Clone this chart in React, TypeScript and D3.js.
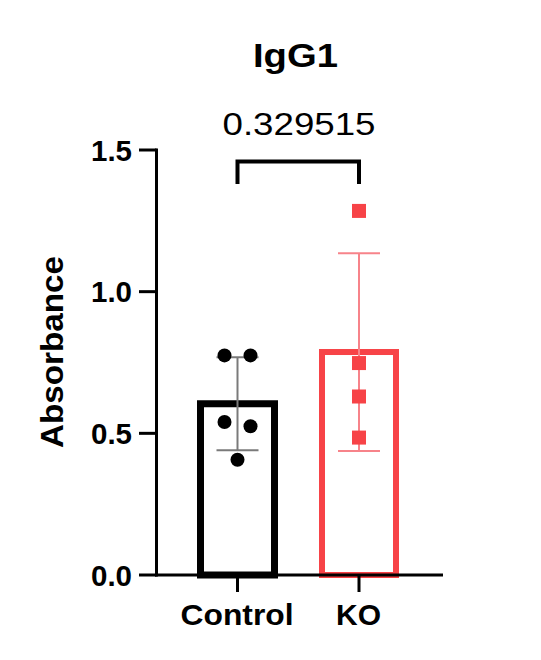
import React from "react";
import * as d3 from "d3";

const title = "IgG1";
const yLabel = "Absorbance";
const categories = ["Control", "KO"];
const controlValues = [0.775, 0.775, 0.54, 0.525, 0.407];
const koValues = [1.285, 0.748, 0.63, 0.485];
const yTicks = [0.0, 0.5, 1.0, 1.5];
const pValue = "0.329515";

const BLACK = "#000000";
const RED = "#F74347";
const RED_LIGHT = "#F7838A";

function spread(values: number[], gap: number, step: number) {
  // place near-equal values side by side, as the scatter does
  const order = values.map((v, i) => ({ v, i })).sort((a, b) => b.v - a.v);
  const offs = new Array(values.length).fill(0);
  let k = 0;
  while (k < order.length) {
    let j = k + 1;
    while (j < order.length && order[j - 1].v - order[j].v < gap) j++;
    const n = j - k;
    for (let m = 0; m < n; m++) offs[order[k + m].i] = (m - (n - 1) / 2) * step;
    k = j;
  }
  return offs;
}

export default function App() {
  const W = 541, H = 660;
  const y = d3.scaleLinear().domain([0, 1.5]).range([575, 150]);
  const x = d3.scalePoint<string>().domain(categories).range([237.5, 359]);
  const axisX = 156.5;
  const axisRight = 443;
  const font = "'Liberation Sans', Arial, Helvetica, sans-serif";

  const groups = [
    { name: "Control", values: controlValues, color: BLACK, ebColor: "#7a7a7a", sw: 7, shape: "circle" },
    { name: "KO", values: koValues, color: RED, ebColor: RED_LIGHT, sw: 6, shape: "square" },
  ];
  const barW = 74;
  const capW = 42;

  return (
    <svg width={W} height={H} style={{ position: "absolute", left: 0, top: 0 }}>
      <rect x={0} y={0} width={W} height={H} fill="#fff" />
      {/* title */}
      <text x={295.5} y={67} textAnchor="middle" fontFamily={font} fontWeight="bold" fontSize={33}
        textLength={85} lengthAdjust="spacingAndGlyphs">{title}</text>

      {/* bars */}
      {groups.map((g) => {
        const m = d3.mean(g.values) as number;
        const sd = d3.deviation(g.values) as number;
        const cx = x(g.name) as number;
        const offs = spread(g.values, 0.06, 26);
        return (
          <g key={g.name}>
            <rect x={cx - barW / 2} y={y(m)} width={barW} height={y(0) - y(m)} fill="none"
              stroke={g.color} strokeWidth={g.sw} />
            <line x1={cx} x2={cx} y1={y(m + sd)} y2={y(m - sd)} stroke={g.ebColor} strokeWidth={2} />
            <line x1={cx - capW / 2} x2={cx + capW / 2} y1={y(m + sd)} y2={y(m + sd)} stroke={g.ebColor} strokeWidth={2} />
            <line x1={cx - capW / 2} x2={cx + capW / 2} y1={y(m - sd)} y2={y(m - sd)} stroke={g.ebColor} strokeWidth={2} />
            {g.values.map((v, i) =>
              g.shape === "circle" ? (
                <circle key={i} cx={cx + offs[i]} cy={y(v)} r={7} fill={g.color} />
              ) : (
                <rect key={i} x={cx + offs[i] - 7} y={y(v) - 7} width={14} height={14} fill={g.color} />
              )
            )}
          </g>
        );
      })}

      {/* y axis */}
      <line x1={axisX} x2={axisX} y1={y(1.5) - 1.5} y2={y(0) + 1.5} stroke={BLACK} strokeWidth={3} />
      {yTicks.map((t) => (
        <g key={t}>
          <line x1={139} x2={axisX} y1={y(t)} y2={y(t)} stroke={BLACK} strokeWidth={3} />
          <text x={132} y={y(t)} dy="0.36em" textAnchor="end" fontFamily={font} fontWeight="bold" fontSize={29.5}>
            {d3.format(".1f")(t)}
          </text>
        </g>
      ))}
      <text transform={`translate(63,352) rotate(-90)`} textAnchor="middle" fontFamily={font} fontWeight="bold"
        fontSize={32} textLength={192} lengthAdjust="spacingAndGlyphs">{yLabel}</text>

      {/* x axis */}
      <line x1={axisX - 1.5} x2={axisRight} y1={y(0)} y2={y(0)} stroke={BLACK} strokeWidth={3} />
      {categories.map((c) => (
        <g key={c}>
          <line x1={x(c)} x2={x(c)} y1={y(0)} y2={592} stroke={BLACK} strokeWidth={3} />
          <text x={(x(c) as number) - 0.5} y={625} textAnchor="middle" fontFamily={font} fontWeight="bold" fontSize={30}
            textLength={c === "Control" ? 113 : 45} lengthAdjust="spacingAndGlyphs">{c}</text>
        </g>
      ))}

      {/* significance bracket */}
      <path d={`M${x("Control")},184 V161.5 H${x("KO")} V184`} fill="none" stroke={BLACK} strokeWidth={4} />
      <text x={299} y={134.5} textAnchor="middle" fontFamily={font} fontSize={31}
        textLength={153} lengthAdjust="spacingAndGlyphs">{pValue}</text>
    </svg>
  );
}
